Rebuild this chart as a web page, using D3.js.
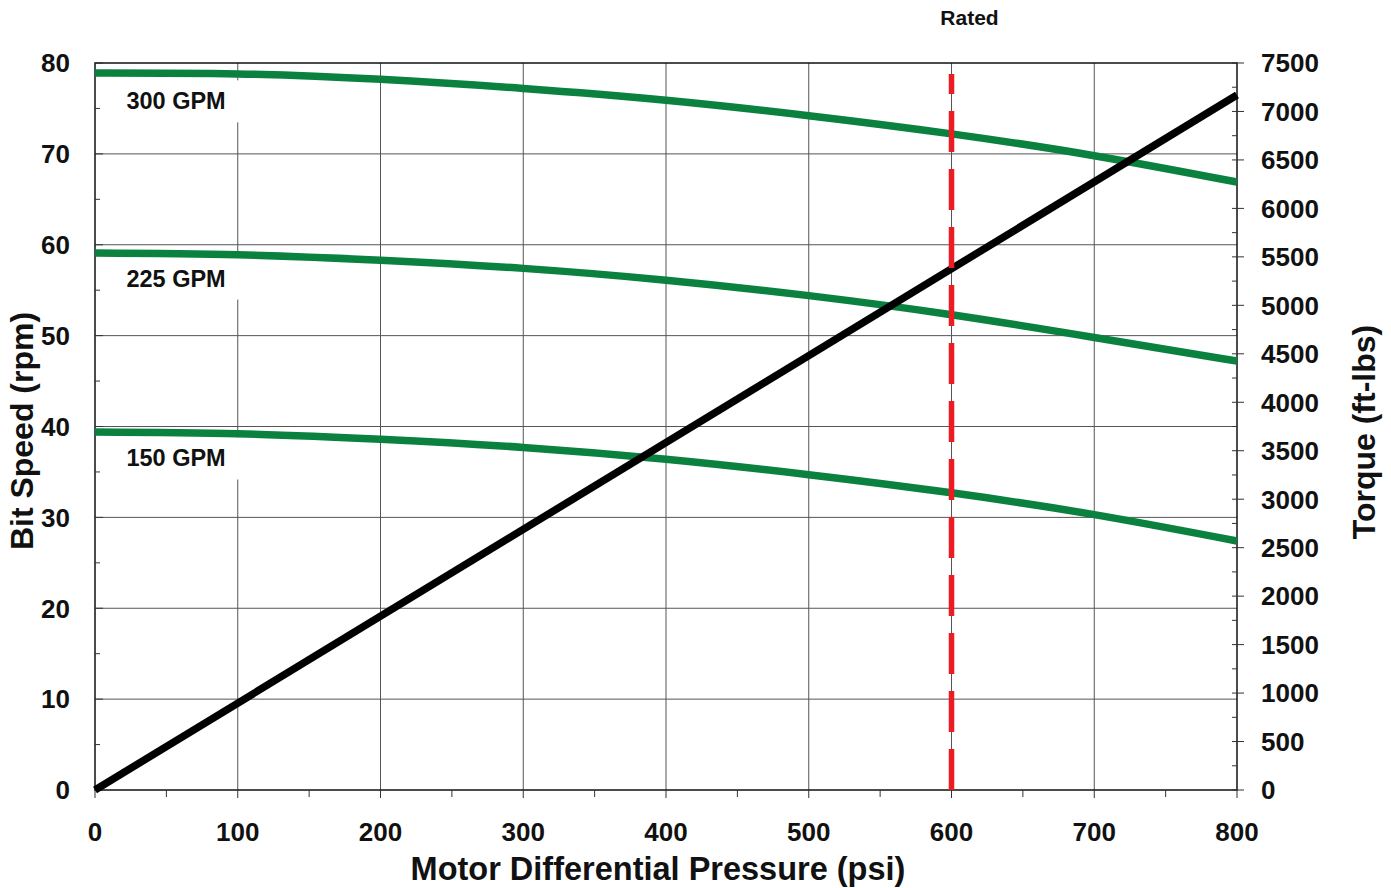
<!DOCTYPE html>
<html>
<head>
<meta charset="utf-8">
<script src="https://cdn.jsdelivr.net/npm/d3@7"></script>
<style>
  html, body { margin: 0; padding: 0; background: #fff; }
  svg { display: block; font-family: "Liberation Sans", Arial, sans-serif; font-weight: bold; }
</style>
</head>
<body>
<svg id="chart" width="1391" height="888"></svg>
<script>
// ---- data ----
const pressure = [0, 100, 200, 300, 400, 500, 600, 700, 800];
const speed300 = [78.9, 78.8, 78.2, 77.2, 75.9, 74.2, 72.2, 69.8, 66.9];
const speed225 = [59.1, 58.9, 58.3, 57.4, 56.1, 54.4, 52.3, 49.8, 47.2];
const speed150 = [39.4, 39.2, 38.6, 37.7, 36.4, 34.7, 32.7, 30.3, 27.4];
const torquePressure = [0, 800];
const torqueValues = [0, 7170];
const flowLabels = ["300 GPM", "225 GPM", "150 GPM"];
const labelPressure = 22;
const labelSpeed = [74.9, 55.4, 35.6];
const ratedPressure = 600;
const ratedTopSpeed = 78.8;
const xTicks = [0, 100, 200, 300, 400, 500, 600, 700, 800];
const xMinorTicks = [50, 150, 250, 350, 450, 550, 650, 750];
const leftTicks = [0, 10, 20, 30, 40, 50, 60, 70, 80];
const leftMinorTicks = [5, 15, 25, 35, 45, 55, 65, 75];
const rightTicks = [0, 500, 1000, 1500, 2000, 2500, 3000, 3500, 4000, 4500, 5000, 5500, 6000, 6500, 7000, 7500];
const rightMinorTicks = [250, 750, 1250, 1750, 2250, 2750, 3250, 3750, 4250, 4750, 5250, 5750, 6250, 6750, 7250];

// ---- scales ----
const svg = d3.select("#chart");
const x = d3.scaleLinear().domain([0, 800]).range([95, 1237]);
const y = d3.scaleLinear().domain([0, 80]).range([790, 63]);
const yR = d3.scaleLinear().domain([0, 7500]).range([790, 63]);

const gridColor = "#555";
const green = "#0b8140";

// grid lines
svg.append("g").selectAll("line").data(xTicks.slice(1, -1)).join("line")
  .attr("x1", d => x(d)).attr("x2", d => x(d))
  .attr("y1", y(80)).attr("y2", y(0))
  .attr("stroke", gridColor).attr("stroke-width", 1);
svg.append("g").selectAll("line").data(leftTicks.slice(1, -1)).join("line")
  .attr("x1", x(0)).attr("x2", x(800))
  .attr("y1", d => y(d)).attr("y2", d => y(d))
  .attr("stroke", gridColor).attr("stroke-width", 1);

// label background boxes and labels
const labelG = svg.append("g");
flowLabels.forEach((t, i) => {
  const rect = labelG.append("rect").attr("fill", "#fff");
  const txt = labelG.append("text")
    .attr("x", x(labelPressure)).attr("y", y(labelSpeed[i]))
    .attr("font-size", 23.5).attr("fill", "#111").text(t);
  const b = txt.node().getBBox();
  rect.attr("x", x(0) + 1).attr("y", b.y - 8)
    .attr("width", x(100) - x(0) + 3).attr("height", b.height + 16);
});

// frame
svg.append("rect").attr("x", x(0)).attr("y", y(80))
  .attr("width", x(800) - x(0)).attr("height", y(0) - y(80))
  .attr("fill", "none").attr("stroke", "#111").attr("stroke-width", 1.5);

// ticks
const tickG = svg.append("g").attr("stroke", "#333").attr("stroke-width", 1);
tickG.selectAll(".xt").data(xTicks).join("line")
  .attr("x1", d => x(d)).attr("x2", d => x(d)).attr("y1", y(0)).attr("y2", y(0) + 8);
tickG.selectAll(".xm").data(xMinorTicks).join("line")
  .attr("x1", d => x(d)).attr("x2", d => x(d)).attr("y1", y(0)).attr("y2", y(0) + 7);
tickG.selectAll(".lt").data(leftTicks).join("line")
  .attr("x1", x(0)).attr("x2", x(0) + 8).attr("y1", d => y(d)).attr("y2", d => y(d));
tickG.selectAll(".lm").data(leftMinorTicks).join("line")
  .attr("x1", x(0)).attr("x2", x(0) + 5).attr("y1", d => y(d)).attr("y2", d => y(d));
tickG.selectAll(".rt").data(rightTicks).join("line")
  .attr("x1", x(800) - 5).attr("x2", x(800) + 7).attr("y1", d => yR(d)).attr("y2", d => yR(d));
tickG.selectAll(".rm").data(rightMinorTicks).join("line")
  .attr("x1", x(800) - 5).attr("x2", x(800)).attr("y1", d => yR(d)).attr("y2", d => yR(d));

// curves
const line = d3.line().curve(d3.curveNatural);
[speed300, speed225, speed150].forEach(s => {
  svg.append("path")
    .attr("d", line(pressure.map((p, i) => [x(p), y(s[i])])))
    .attr("fill", "none").attr("stroke", green).attr("stroke-width", 7.5);
});

// torque line
svg.append("path")
  .attr("d", d3.line()(torquePressure.map((p, i) => [x(p), yR(torqueValues[i])])))
  .attr("fill", "none").attr("stroke", "#000").attr("stroke-width", 7.5);

// rated line
svg.append("line")
  .attr("x1", x(ratedPressure)).attr("x2", x(ratedPressure))
  .attr("y1", y(0)).attr("y2", y(ratedTopSpeed))
  .attr("stroke", "#ed1c24").attr("stroke-width", 5.5)
  .attr("stroke-dasharray", "41,17");
svg.append("text").attr("x", x(ratedPressure) + 18).attr("y", 25)
  .attr("text-anchor", "middle").attr("font-size", 21).attr("fill", "#111").text("Rated");

// tick labels
const labG = svg.append("g").attr("font-size", 26).attr("fill", "#111");
labG.selectAll(".xl").data(xTicks).join("text")
  .attr("x", d => x(d)).attr("y", 841).attr("text-anchor", "middle").text(d => d);
labG.selectAll(".ll").data(leftTicks).join("text")
  .attr("x", 70).attr("y", d => y(d)).attr("dy", "0.36em").attr("text-anchor", "end").text(d => d);
labG.selectAll(".rl").data(rightTicks).join("text")
  .attr("x", 1261).attr("y", d => yR(d)).attr("dy", "0.36em").attr("text-anchor", "start").text(d => d);

// axis titles
svg.append("text").attr("x", (x(0) + x(800)) / 2 - 8).attr("y", 880)
  .attr("text-anchor", "middle").attr("font-size", 32.5).attr("fill", "#111")
  .text("Motor Differential Pressure (psi)");
svg.append("text").attr("transform", "translate(33,431) rotate(-90)")
  .attr("text-anchor", "middle").attr("font-size", 32).attr("fill", "#111")
  .text("Bit Speed (rpm)");
svg.append("text").attr("transform", "translate(1375,432) rotate(-90)")
  .attr("text-anchor", "middle").attr("font-size", 32).attr("fill", "#111")
  .text("Torque (ft-lbs)");
</script>
</body>
</html>
